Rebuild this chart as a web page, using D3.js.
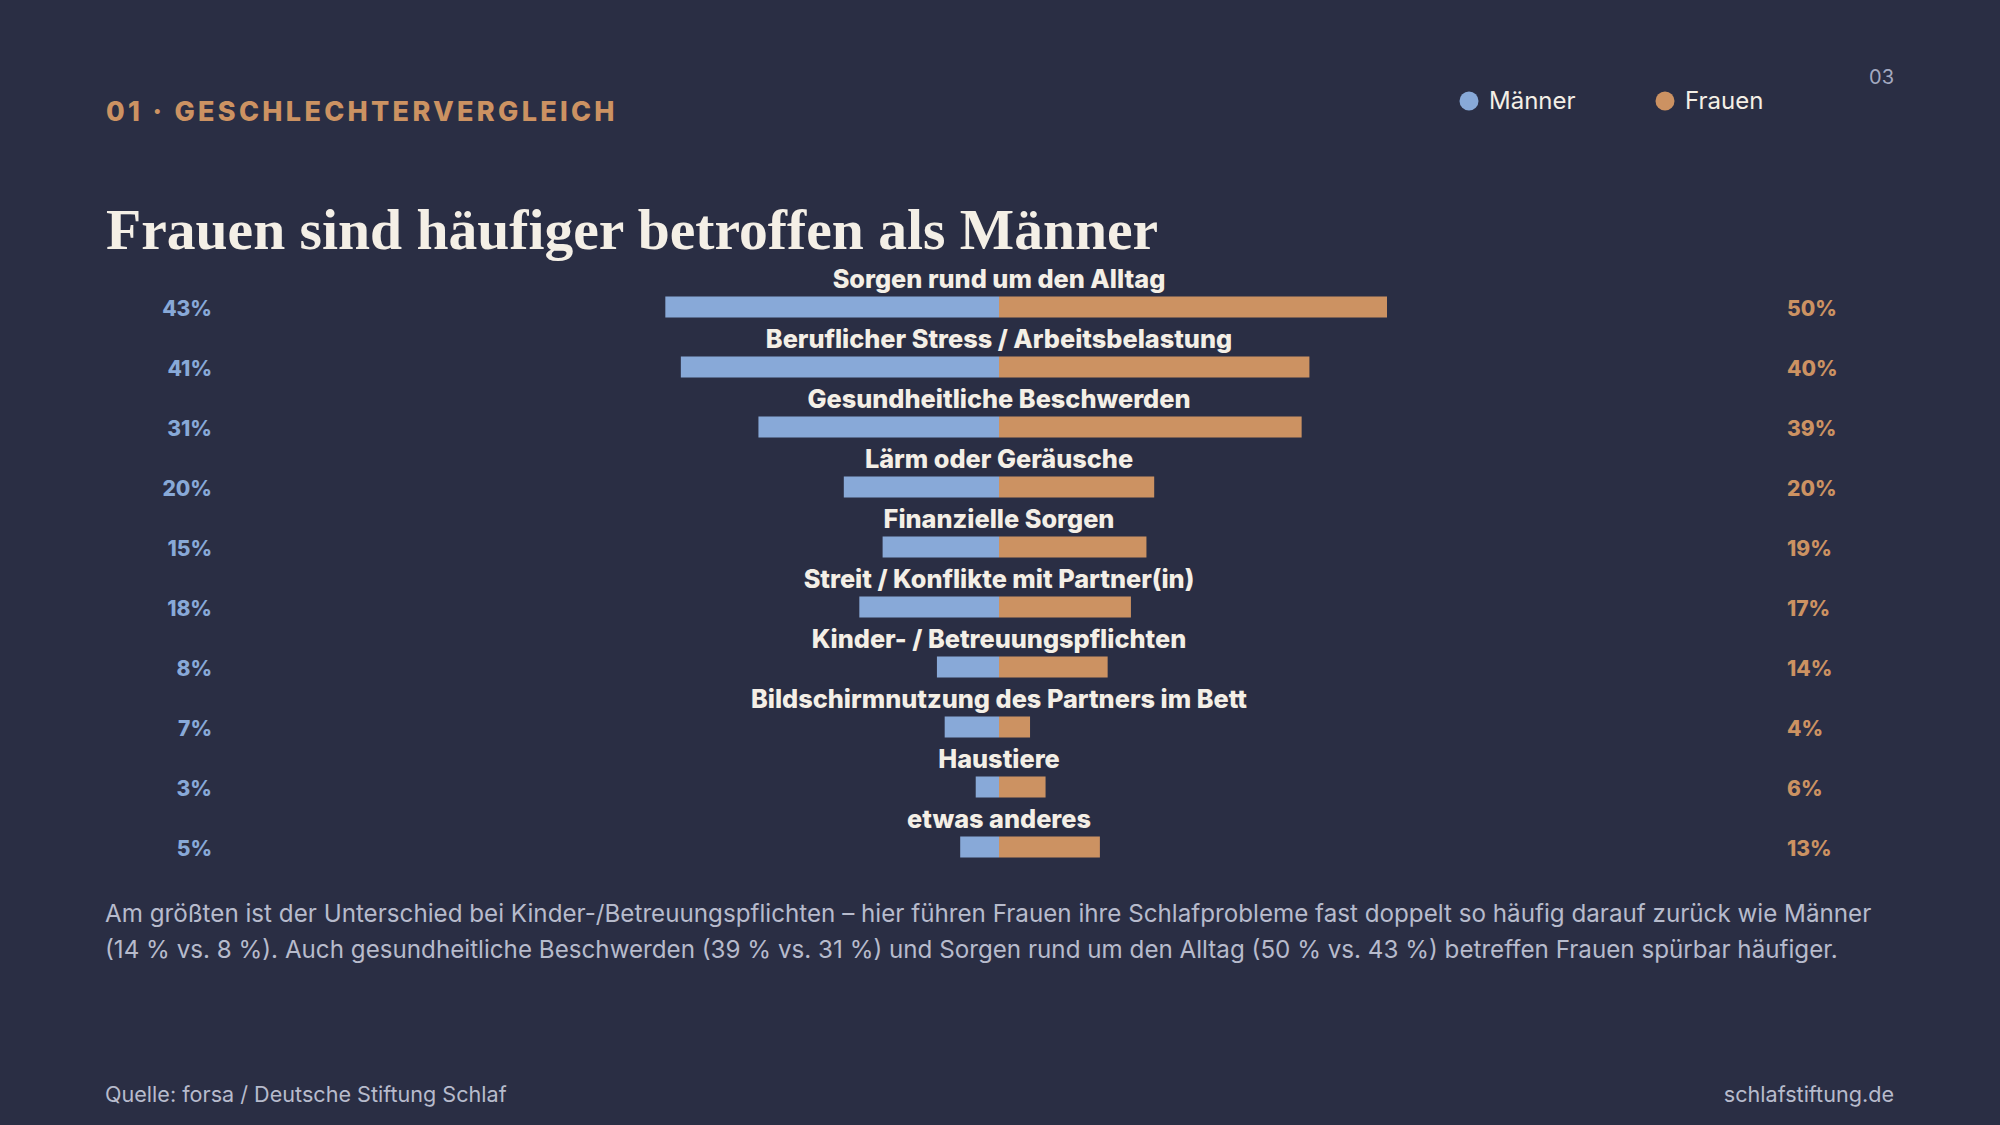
<!DOCTYPE html>
<html lang="de">
<head>
<meta charset="utf-8">
<script src="https://cdn.jsdelivr.net/npm/d3@7"></script>
<style>
    html, body { margin: 0; padding: 0; background: #2a2e44; }
    svg { display: block; }
</style>
</head>
<body>
<svg id="chart" width="2000" height="1125"></svg>
<script>
/*---------------------------------- data ----------------------------------*/

var categories = [
    "Sorgen rund um den Alltag",
    "Beruflicher Stress / Arbeitsbelastung",
    "Gesundheitliche Beschwerden",
    "Lärm oder Geräusche",
    "Finanzielle Sorgen",
    "Streit / Konflikte mit Partner(in)",
    "Kinder- / Betreuungspflichten",
    "Bildschirmnutzung des Partners im Bett",
    "Haustiere",
    "etwas anderes"
];
var maenner = [43, 41, 31, 20, 15, 18, 8, 7, 3, 5];
var frauen = [50, 40, 39, 20, 19, 17, 14, 4, 6, 13];
var seriesNames = ["Männer", "Frauen"];

var bodyLines = [
    "Am größten ist der Unterschied bei Kinder-/Betreuungspflichten – hier führen Frauen ihre Schlafprobleme fast doppelt so häufig darauf zurück wie Männer",
    "(14 % vs. 8 %). Auch gesundheitliche Beschwerden (39 % vs. 31 %) und Sorgen rund um den Alltag (50 % vs. 43 %) betreffen Frauen spürbar häufiger."
];

/*---------------------------------- style ----------------------------------*/

var blue = "#88a9d8";
var orange = "#cc9262";
var cream = "#f4efe6";
var sans = "Inter, 'Open Sans', sans-serif";

var svg = d3.select("#chart");
var centerX = 999;

svg.append("rect").attr("width", 2000).attr("height", 1125).attr("fill", "#2a2e44");

//header
svg.append("text")
    .attr("x", 106).attr("y", 121)
    .attr("fill", orange)
    .style("font-family", sans).style("font-weight", 800)
    .style("font-size", "27px").style("letter-spacing", "3.3px")
    .text("01 · GESCHLECHTERVERGLEICH");

svg.append("text")
    .attr("x", 106).attr("y", 249)
    .attr("fill", cream)
    .style("font-family", "'Liberation Serif', serif").style("font-weight", 700)
    .style("font-size", "57.6px")
    .text("Frauen sind häufiger betroffen als Männer");

svg.append("text")
    .attr("x", 1894).attr("y", 84)
    .attr("text-anchor", "end")
    .attr("fill", "#a3a9c0")
    .style("font-family", sans).style("font-size", "20px")
    .text("03");

//legend
var legendX = [1469, 1665];
var legend = svg.selectAll(".legend")
    .data(seriesNames)
    .enter().append("g")
    .attr("class", "legend")
    .attr("transform", function (d, i) { return "translate(" + legendX[i] + ",101)"; });
legend.append("circle")
    .attr("r", 9.5)
    .attr("fill", function (d, i) { return i == 0 ? blue : orange; });
legend.append("text")
    .attr("x", 20).attr("dy", "0.35em")
    .attr("fill", cream)
    .style("font-family", sans).style("font-size", "24px")
    .text(function (d) { return d; });

/*---------------------------------- bars ----------------------------------*/

var rows = categories.map(function (c, i) { return { name: c, m: maenner[i], f: frauen[i] }; });

var y = d3.scaleBand()
    .domain(categories)
    .range([277, 877])
    .paddingInner(0.65)
    .paddingOuter(0.325);

var x = d3.scaleLinear().domain([0, 50]).range([0, 388]);

var row = svg.selectAll(".row")
    .data(rows)
    .enter().append("g")
    .attr("class", "row")
    .attr("transform", function (d) { return "translate(0," + y(d.name) + ")"; });

row.append("rect")
    .attr("x", function (d) { return centerX - x(d.m); })
    .attr("width", function (d) { return x(d.m); })
    .attr("height", y.bandwidth())
    .attr("fill", blue);

row.append("rect")
    .attr("x", centerX)
    .attr("width", function (d) { return x(d.f); })
    .attr("height", y.bandwidth())
    .attr("fill", orange);

row.append("text")
    .attr("x", centerX).attr("y", -9)
    .attr("text-anchor", "middle")
    .attr("fill", cream)
    .style("font-family", sans).style("font-weight", 800).style("font-size", "25.3px")
    .text(function (d) { return d.name; });

row.append("text")
    .attr("x", 212).attr("y", y.bandwidth() / 2).attr("dy", "0.42em")
    .attr("text-anchor", "end")
    .attr("fill", blue)
    .style("font-family", sans).style("font-weight", 800).style("font-size", "21px")
    .text(function (d) { return d.m + "%"; });

row.append("text")
    .attr("x", 1787).attr("y", y.bandwidth() / 2).attr("dy", "0.42em")
    .attr("fill", orange)
    .style("font-family", sans).style("font-weight", 800).style("font-size", "21px")
    .text(function (d) { return d.f + "%"; });

/*---------------------------------- text ----------------------------------*/

svg.selectAll(".body")
    .data(bodyLines)
    .enter().append("text")
    .attr("class", "body")
    .attr("x", 105)
    .attr("y", function (d, i) { return 922 + i * 36; })
    .attr("fill", "#b7bbcc")
    .style("font-family", sans).style("font-size", "24.2px")
    .text(function (d) { return d; });

svg.append("text")
    .attr("x", 105).attr("y", 1102)
    .attr("fill", "#b7bbcc")
    .style("font-family", sans).style("font-size", "21.6px")
    .text("Quelle: forsa / Deutsche Stiftung Schlaf");

svg.append("text")
    .attr("x", 1894).attr("y", 1102)
    .attr("text-anchor", "end")
    .attr("fill", "#b7bbcc")
    .style("font-family", sans).style("font-size", "21.6px")
    .text("schlafstiftung.de");
</script>
</body>
</html>
